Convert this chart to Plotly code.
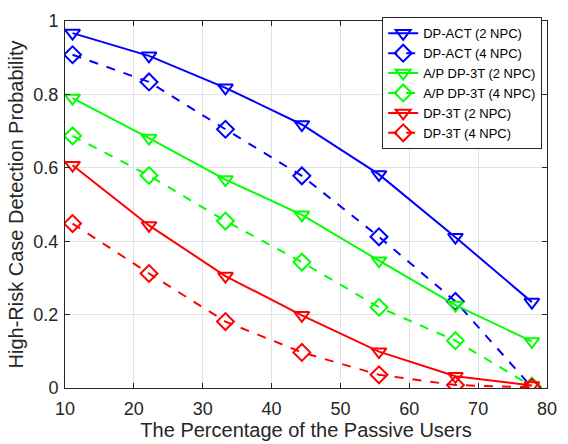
import plotly.graph_objects as go

x_vals = [11.1, 22.2, 33.3, 44.4, 55.6, 66.7, 77.8]

dpact_2 = [0.967, 0.905, 0.818, 0.718, 0.582, 0.411, 0.234]
dpact_4 = [0.908, 0.834, 0.705, 0.578, 0.412, 0.236, 0.002]
ap_2 = [0.790, 0.681, 0.568, 0.472, 0.347, 0.226, 0.127]
ap_4 = [0.687, 0.579, 0.455, 0.343, 0.220, 0.129, 0.005]
dp3t_2 = [0.607, 0.443, 0.305, 0.198, 0.099, 0.032, 0.007]
dp3t_4 = [0.448, 0.312, 0.181, 0.097, 0.036, 0.008, 0.002]

x_ticks = [10, 20, 30, 40, 50, 60, 70, 80]
y_ticks = [0, 0.2, 0.4, 0.6, 0.8, 1]
y_ticklabels = ["0", "0.2", "0.4", "0.6", "0.8", "1"]

series = [
    ("DP-ACT (2 NPC)", dpact_2, "#0000FF", "solid", "triangle-down-open"),
    ("DP-ACT (4 NPC)", dpact_4, "#0000FF", "dash", "diamond-open"),
    ("A/P DP-3T (2 NPC)", ap_2, "#00FF00", "solid", "triangle-down-open"),
    ("A/P DP-3T (4 NPC)", ap_4, "#00FF00", "dash", "diamond-open"),
    ("DP-3T (2 NPC)", dp3t_2, "#FF0000", "solid", "triangle-down-open"),
    ("DP-3T (4 NPC)", dp3t_4, "#FF0000", "dash", "diamond-open"),
]

FONT = "Liberation Sans, Arial, sans-serif"

fig = go.Figure()
for name, ys, color, dash, sym in series:
    fig.add_trace(go.Scatter(
        x=x_vals, y=ys, name=name, mode="lines+markers",
        line=dict(color=color, width=2, dash=dash),
        marker=dict(symbol=sym, size=13, color=color, line=dict(color=color, width=2)),
    ))

axis_common = dict(
    showgrid=True, gridcolor="#E3E3E3", gridwidth=1,
    showline=True, linecolor="#262626", linewidth=1, mirror="ticks",
    ticks="inside", ticklen=5, tickcolor="#262626",
    zeroline=False,
    tickfont=dict(family=FONT, size=18, color="#262626"),
)

fig.update_layout(
    width=568, height=444,
    margin=dict(l=65, r=11, t=13, b=53),
    paper_bgcolor="white", plot_bgcolor="white",
    font=dict(family=FONT, color="#262626"),
    xaxis=dict(range=[10, 80], tickvals=x_ticks, ticklabelstandoff=4,
               title=dict(text="The Percentage of the Passive Users",
                          font=dict(size=20, color="#262626"), standoff=0),
               **axis_common),
    yaxis=dict(range=[0, 1], tickvals=y_ticks, ticktext=y_ticklabels,
               ticklabelstandoff=2,
               title=dict(text="High-Risk Case Detection Probability",
                          font=dict(size=20, color="#262626"), standoff=4),
               **axis_common),
    legend=dict(x=0.99, y=1.01, xanchor="right", yanchor="top",
                bgcolor="white", bordercolor="#262626", borderwidth=1,
                font=dict(family=FONT, size=13, color="#000000"),
                tracegroupgap=0),
    showlegend=True,
)

fig.write_html("out.html")
